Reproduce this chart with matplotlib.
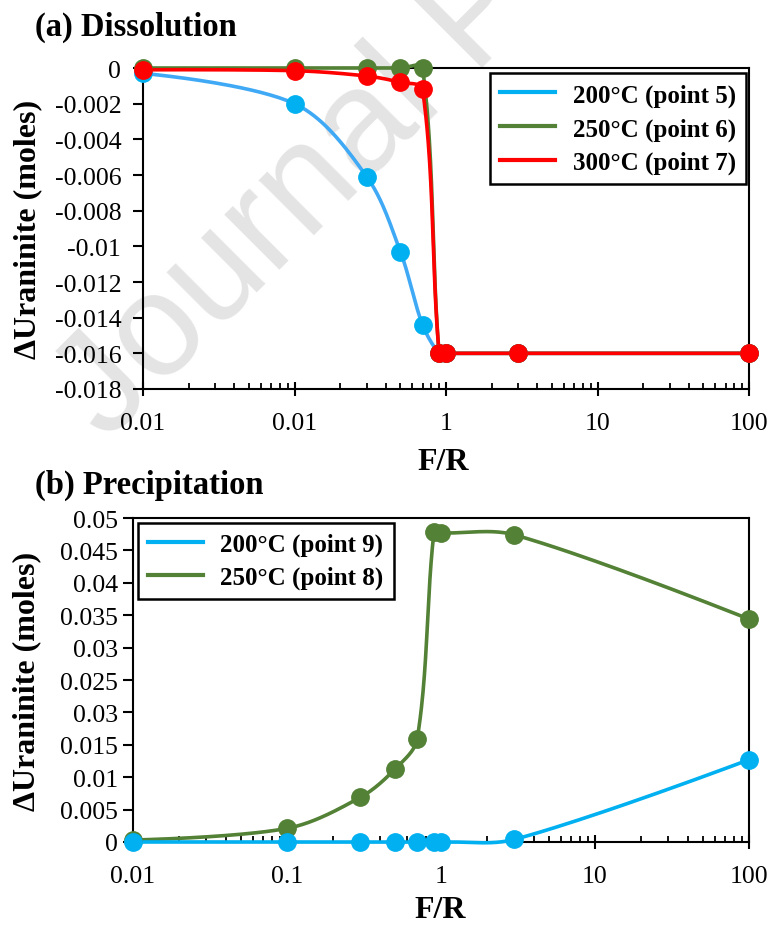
import numpy as np
import matplotlib
matplotlib.use("Agg")
import matplotlib.pyplot as plt
from matplotlib.lines import Line2D
from matplotlib.ticker import LogLocator, NullFormatter

plt.rcParams['font.family'] = ['Liberation Serif', 'DejaVu Serif']

# (a) Dissolution
fr_a = [0.01, 0.1, 0.3, 0.5, 0.7, 0.9, 1, 3, 100]
diss_200 = [-0.0003, -0.0020, -0.0061, -0.0103, -0.0144, -0.016, -0.016, -0.016, -0.016]
diss_250 = [0, 0, 0, 0, 0, -0.016, -0.016, -0.016, -0.016]
diss_300 = [-0.0001, -0.00015, -0.00045, -0.0008, -0.0012, -0.016, -0.016, -0.016, -0.016]

# (b) Precipitation
fr_b = [0.01, 0.1, 0.3, 0.5, 0.7, 0.9, 1, 3, 100]
prec_200 = [0, 0, 0, 0, 0, 0, 0, 0.0004, 0.0127]
prec_250 = [0.0003, 0.0021, 0.0069, 0.0112, 0.0159, 0.0478, 0.0477, 0.0474, 0.0344]

xtick_vals = [0.01, 0.1, 1, 10, 100]
xlabels_a = ['0.01', '0.01', '1', '10', '100']
xlabels_b = ['0.01', '0.1', '1', '10', '100']
ytick_a = [0, -0.002, -0.004, -0.006, -0.008, -0.01, -0.012, -0.014, -0.016, -0.018]
ylabels_a = ['0', '-0.002', '-0.004', '-0.006', '-0.008', '-0.01', '-0.012', '-0.014', '-0.016', '-0.018']
ytick_b = [0, 0.005, 0.01, 0.015, 0.02, 0.025, 0.03, 0.035, 0.04, 0.045, 0.05]
ylabels_b = ['0', '0.005', '0.01', '0.015', '0.03', '0.025', '0.03', '0.035', '0.04', '0.045', '0.05']

BLUE = '#00B0F0'
BLUE_LINE = '#3FA9F5'
GREEN = '#538135'
RED = '#FF0000'


def ctrl(pts, i, side):
    # bezier control point, excel-like smoothing done in screen space
    m = len(pts)
    if i == 0 or i == m - 1:
        return pts[i]
    d = pts[i + 1] - pts[i - 1]
    lp = np.hypot(*(pts[i] - pts[i - 1]))
    ln = np.hypot(*(pts[i + 1] - pts[i]))
    if lp + ln == 0:
        return pts[i]
    if side > 0:
        return pts[i] + d * ln / (lp + ln) / 3
    return pts[i] - d * lp / (lp + ln) / 3


def smooth(ax, x, y, n=40):
    pts = ax.transData.transform(np.column_stack([x, y]))
    out = [pts[:1]]
    t = np.linspace(0, 1, n)[1:, None]
    for i in range(len(pts) - 1):
        p0, p1 = pts[i], pts[i + 1]
        c1, c2 = ctrl(pts, i, 1), ctrl(pts, i + 1, -1)
        seg = (1 - t) ** 3 * p0 + 3 * (1 - t) ** 2 * t * c1 + 3 * (1 - t) * t ** 2 * c2 + t ** 3 * p1
        out.append(seg)
    xy = ax.transData.inverted().transform(np.vstack(out))
    return xy[:, 0], xy[:, 1]


def style_axes(ax, xlabels, yticks, ylabels, ypad):
    ax.set_xscale('log')
    ax.set_xlim(0.01, 100)
    ax.set_xticks(xtick_vals, xlabels)
    ax.xaxis.set_minor_locator(LogLocator(base=10, subs=np.arange(2, 10)))
    ax.xaxis.set_minor_formatter(NullFormatter())
    ax.set_yticks(yticks, ylabels)
    ax.set_facecolor('none')
    for s in ax.spines.values():
        s.set_linewidth(1.5)
    ax.tick_params(axis='x', which='major', direction='inout', length=9.5, width=1.5, pad=12, labelsize=18.5)
    ax.tick_params(axis='x', which='minor', direction='in', length=4.5, width=1.3)
    ax.tick_params(axis='y', which='both', direction='out', length=7.2, width=1.5, pad=ypad, labelsize=18.5)


def draw(ax, x, y, color, lcolor=None):
    xs, ys = smooth(ax, x, y)
    ax.plot(xs, ys, color=lcolor or color, lw=2.6, clip_on=False, zorder=3)
    ax.plot(x, y, 'o', ms=12.5, color=color, clip_on=False, zorder=4)


fig = plt.figure(figsize=(7.71, 9.29), dpi=100)

fig.text(0.138, 0.523, 'Journal Pre-proof', family='Liberation Sans', fontsize=105,
         color='#e4e4e4', rotation=45, rotation_mode='anchor', ha='left', va='baseline', zorder=-5)

# panel a
ax1 = fig.add_axes([0.1855, 0.5802, 0.786, 0.3455])
ax1.set_ylim(-0.018, 0)
style_axes(ax1, xlabels_a, ytick_a, ylabels_a, 8.5)
draw(ax1, fr_a, diss_200, BLUE, BLUE_LINE)
draw(ax1, fr_a, diss_250, GREEN)
draw(ax1, fr_a, diss_300, RED)
ax1.set_xlabel('F/R', fontsize=23, fontweight='bold', va='center')
ax1.xaxis.set_label_coords(0.495, -0.227)
ax1.set_ylabel('ΔUraninite (moles)', fontsize=23, fontweight='bold', va='center')
ax1.yaxis.set_label_coords(-0.19, 0.5)
h1 = [Line2D([], [], color=c, lw=3) for c in (BLUE, GREEN, RED)]
leg1 = ax1.legend(h1, ['200°C (point 5)', '250°C (point 6)', '300°C (point 7)'],
                  loc='upper right', bbox_to_anchor=(0.995, 0.984), borderaxespad=0,
                  prop={'size': 18, 'weight': 'bold'}, fancybox=False, edgecolor='black',
                  framealpha=1, handlelength=2.2, handletextpad=0.7, labelspacing=0.42,
                  borderpad=0.4)
leg1.get_frame().set_linewidth(1.8)
fig.text(35 / 771, 1 - 27 / 929, '(a) Dissolution', fontsize=23.5, fontweight='bold', ha='left', va='center')

# panel b
ax2 = fig.add_axes([0.1725, 0.0926, 0.799, 0.3487])
ax2.set_ylim(0, 0.05)
style_axes(ax2, xlabels_b, ytick_b, ylabels_b, 3.5)
draw(ax2, fr_b, prec_250, GREEN)
draw(ax2, fr_b, prec_200, BLUE)
ax2.set_xlabel('F/R', fontsize=23, fontweight='bold', va='center')
ax2.xaxis.set_label_coords(0.498, -0.207)
ax2.set_ylabel('ΔUraninite (moles)', fontsize=23, fontweight='bold', va='center')
ax2.yaxis.set_label_coords(-0.172, 0.5)
h2 = [Line2D([], [], color=c, lw=3) for c in (BLUE, GREEN)]
leg2 = ax2.legend(h2, ['200°C (point 9)', '250°C (point 8)'],
                  loc='upper left', bbox_to_anchor=(0.008, 0.985), borderaxespad=0,
                  prop={'size': 18, 'weight': 'bold'}, fancybox=False, edgecolor='black',
                  framealpha=1, handlelength=2.2, handletextpad=0.7, labelspacing=0.38,
                  borderpad=0.4)
leg2.get_frame().set_linewidth(1.8)
fig.text(35 / 771, 1 - 485 / 929, '(b) Precipitation', fontsize=23.5, fontweight='bold', ha='left', va='center')

fig.savefig('out.png', dpi=100)
